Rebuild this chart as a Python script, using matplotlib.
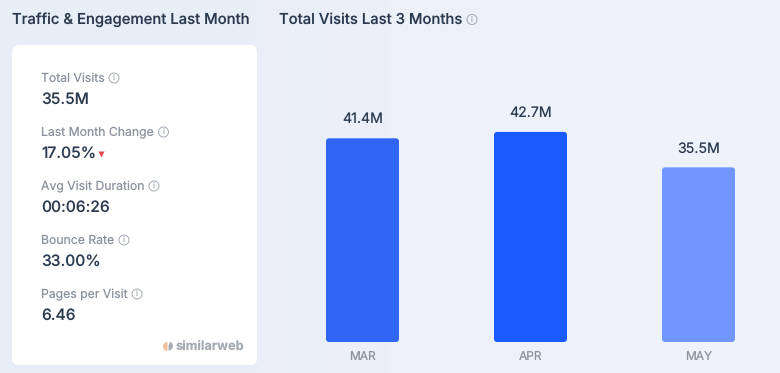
import matplotlib
matplotlib.use('Agg')
import matplotlib.pyplot as plt
from matplotlib.colors import LinearSegmentedColormap
from matplotlib.patches import FancyBboxPatch, Circle, Wedge

months = ['MAR', 'APR', 'MAY']
visits = [41.4, 42.7, 35.5]
visit_labels = ['41.4M', '42.7M', '35.5M']
bar_colors = ['#2F66F6', '#1A5BFF', '#7096FF']

metric_names = ['Total Visits', 'Last Month Change', 'Avg Visit Duration', 'Bounce Rate', 'Pages per Visit']
metric_values = ['35.5M', '17.05%', '00:06:26', '33.00%', '6.46']
metric_icon_x = [114, 163.5, 154, 124, 137]

plt.rcParams['font.family'] = ['Inter', 'DejaVu Sans']
plt.rcParams['text.hinting'] = 'none'
dark = '#2B3A4E'
grey = '#8A929E'
bg = '#EBF1FA'

fig = plt.figure(figsize=(7.8, 3.73), dpi=100, facecolor=bg)

# whole figure in pixel coords, for the card and the text
page = fig.add_axes([0, 0, 1, 1])
page.imshow([[0, 1]], extent=(0, 780, 373, 0), aspect='auto', interpolation='bilinear',
            cmap=LinearSegmentedColormap.from_list('bg', ['#E8EEF8', '#EEF2FB']))
page.set_xlim(0, 780)
page.set_ylim(373, 0)
page.axis('off')


def info_icon(x, y, r=5, col='#A4ABB5'):
    page.add_patch(Circle((x, y), r, fc='none', ec=col, lw=0.7))
    page.text(x, y, 'i', fontsize=5.5, color=col, ha='center', va='center')


page.text(12, 19.5, 'Traffic & Engagement Last Month', fontsize=10.7, color=dark, va='center', fontweight='medium')
page.text(279, 19.5, 'Total Visits Last 3 Months', fontsize=10.7, color=dark, va='center', fontweight='medium')
info_icon(472, 19.5)

page.add_patch(FancyBboxPatch((12, 45), 245, 320, boxstyle='round,pad=0,rounding_size=7', fc='white', ec='none'))

for i in range(len(metric_names)):
    y = 78 + 54 * i
    page.text(41, y + 0.5, metric_names[i], fontsize=8.8, color=grey, va='center')
    page.text(41, y + 21.5, metric_values[i], fontsize=11.2, color=dark, va='center', fontweight='medium')
    info_icon(metric_icon_x[i], y)

# red arrow after the month change
page.plot([100.5], [153.5], marker='v', ms=5, color='#E5484D', mec='none')

# logo
page.add_patch(Wedge((167.5, 346.5), 4.5, 90, 270, fc='#F3BE98', ec='none'))
page.add_patch(Wedge((168.5, 346), 4.5, 290, 90, fc='#A9AFB8', ec='none'))
page.text(175.5, 346, 'similarweb', fontsize=9.25, color='#A3A9B3', va='center', fontweight='bold')

# bars
ax = fig.add_axes([278 / 780, (373 - 342) / 373, (780 - 278) / 780, 282 / 373])
ax.patch.set_alpha(0)
px_x = 168.0
px_y = 4.92
ax.set_xlim((278 - 362.5) / px_x, (780 - 362.5) / px_x)
ax.set_ylim(0, 282 / px_y)
bar_w = 73 / px_x
for i in range(len(months)):
    ax.add_patch(FancyBboxPatch((i - bar_w / 2, 0), bar_w, visits[i],
                                boxstyle='round,pad=0,rounding_size=%f' % (3 / px_x),
                                mutation_aspect=px_x / px_y, fc=bar_colors[i], ec='none'))
    ax.annotate(visit_labels[i], (i, visits[i]), xytext=(0, 13.5), textcoords='offset points',
                ha='center', va='center', fontsize=10.2, color=dark)
for s in ax.spines.values():
    s.set_visible(False)
ax.set_yticks([])
ax.set_xticks(range(len(months)))
ax.set_xticklabels(months, fontsize=8.6, color=grey)
ax.tick_params(axis='x', length=0, pad=6.2)

fig.savefig('out.png', dpi=100, facecolor=bg)
plt.close()
